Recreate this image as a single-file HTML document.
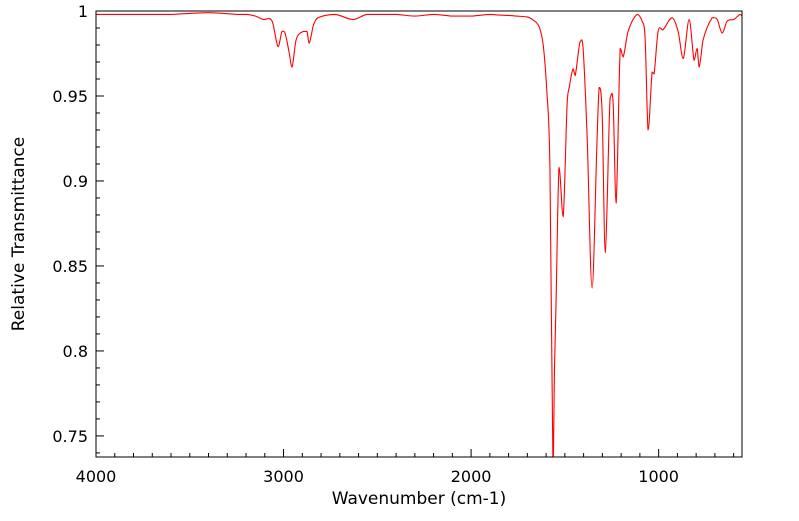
<!DOCTYPE html>
<html><head><meta charset="utf-8"><style>
body{margin:0;background:#fff;width:799px;height:516px;overflow:hidden}
svg{font-family:"DejaVu Sans","Liberation Sans",sans-serif}
</style></head><body>
<svg id="chart" width="799" height="516" xmlns="http://www.w3.org/2000/svg">
<g id="ticks"></g>
<clipPath id="clip"><rect x="96" y="11" width="646" height="446"/></clipPath>
<path id="spectrum" fill="none" stroke="#ff0000" stroke-width="1.1" clip-path="url(#clip)"/>
<rect x="96" y="11" width="646" height="446" fill="none" stroke="#000" stroke-width="1"/>
<text x="419" y="504" font-size="17" text-anchor="middle">Wavenumber (cm-1)</text>
<text transform="translate(24,234) rotate(-90)" font-size="17" text-anchor="middle">Relative Transmittance</text>
</svg>
<script>
const wavenumbers=[4000,3800,3600,3400,3250,3195,3150,3109,3061,3029,3008,2992,2971,2955,2933,2896,2875,2864,2840,2816,2725,2629,2555,2400,2300,2200,2100,2000,1900,1845,1760,1669,1621,1595,1579,1563,1555,1547,1531,1509,1488,1477,1456,1445,1419,1403,1381,1355,1328,1317,1301,1285,1259,1243,1227,1205,1189,1163,1115,1088,1072,1056,1035,1024,1003,976,928,896,869,837,811,795,784,763,715,688,661,635,600,565,555];
const transmittance=[0.998,0.998,0.998,0.999,0.998,0.998,0.997,0.995,0.994,0.979,0.988,0.987,0.976,0.967,0.983,0.988,0.988,0.981,0.992,0.996,0.998,0.995,0.998,0.998,0.997,0.998,0.997,0.997,0.998,0.9976,0.997,0.9947,0.984,0.951,0.905,0.73,0.79,0.827,0.908,0.879,0.945,0.955,0.966,0.962,0.982,0.978,0.925,0.837,0.925,0.955,0.939,0.858,0.949,0.946,0.887,0.978,0.973,0.988,0.998,0.994,0.984,0.930,0.964,0.963,0.988,0.989,0.996,0.988,0.972,0.995,0.971,0.978,0.967,0.983,0.996,0.995,0.987,0.994,0.995,0.998,0.997];
const xTickValues=[4000,3000,2000,1000];
const xTickLabels=["4000","3000","2000","1000"];
const yTickValues=[1,0.95,0.9,0.85,0.8,0.75];
const yTickLabels=["1","0.95","0.9","0.85","0.8","0.75"];
const X0=96,X1=742,Y0=11,Y1=457;
const xMax=4000,xMin=555.5,yMax=1,yMin=0.7376;
function sx(v){return X0+(xMax-v)/(xMax-xMin)*(X1-X0);}
function sy(v){return Y0+(yMax-v)/(yMax-yMin)*(Y1-Y0);}
const P=wavenumbers.map((w,i)=>[sx(w),sy(transmittance[i])]);
let d="M"+P[0][0].toFixed(1)+","+P[0][1].toFixed(1);
for(let i=0;i<P.length-1;i++){
  const p0=P[Math.max(0,i-1)],p1=P[i],p2=P[i+1],p3=P[Math.min(P.length-1,i+2)];
  const h=p2[0]-p1[0];
  let m1=(p2[1]-p0[1])/(p2[0]-p0[0]||1), m2=(p3[1]-p1[1])/(p3[0]-p1[0]||1);
  const s=(p2[1]-p1[1])/h;
  if(s*m1<=0)m1=0; if(s*m2<=0)m2=0;
  const c1=[p1[0]+h/3,p1[1]+m1*h/3];
  const c2=[p2[0]-h/3,p2[1]-m2*h/3];
  d+="C"+c1[0].toFixed(1)+","+c1[1].toFixed(1)+" "+c2[0].toFixed(1)+","+c2[1].toFixed(1)+" "+p2[0].toFixed(1)+","+p2[1].toFixed(1);
}
document.getElementById('spectrum').setAttribute('d',d);
const g=document.getElementById('ticks');const NS="http://www.w3.org/2000/svg";
function line(x1,y1,x2,y2){const l=document.createElementNS(NS,'line');l.setAttribute('x1',x1);l.setAttribute('y1',y1);l.setAttribute('x2',x2);l.setAttribute('y2',y2);l.setAttribute('stroke','#000');


g.appendChild(l);}
for(let w=4000;w>=600;w-=100){const x=sx(w);const major=w%1000===0;line(x,Y1,x,Y1-(major?8:4));}
for(let k=0;k<=26;k++){const v=1-k*0.01;if(v<yMin)break;const y=sy(v);const major=k%5===0;line(X0,y,X0+(major?8:4),y);}
xTickValues.forEach((v,i)=>{const t=document.createElementNS(NS,'text');t.setAttribute('x',sx(v));t.setAttribute('y',482);t.setAttribute('font-size','16');t.setAttribute('text-anchor','middle');t.textContent=xTickLabels[i];


g.appendChild(t);});
yTickValues.forEach((v,i)=>{const t=document.createElementNS(NS,'text');t.setAttribute('x',88);t.setAttribute('y',sy(v)+6);t.setAttribute('font-size','16');t.setAttribute('text-anchor','end');t.textContent=yTickLabels[i];


g.appendChild(t);});
</script>
</body></html>
